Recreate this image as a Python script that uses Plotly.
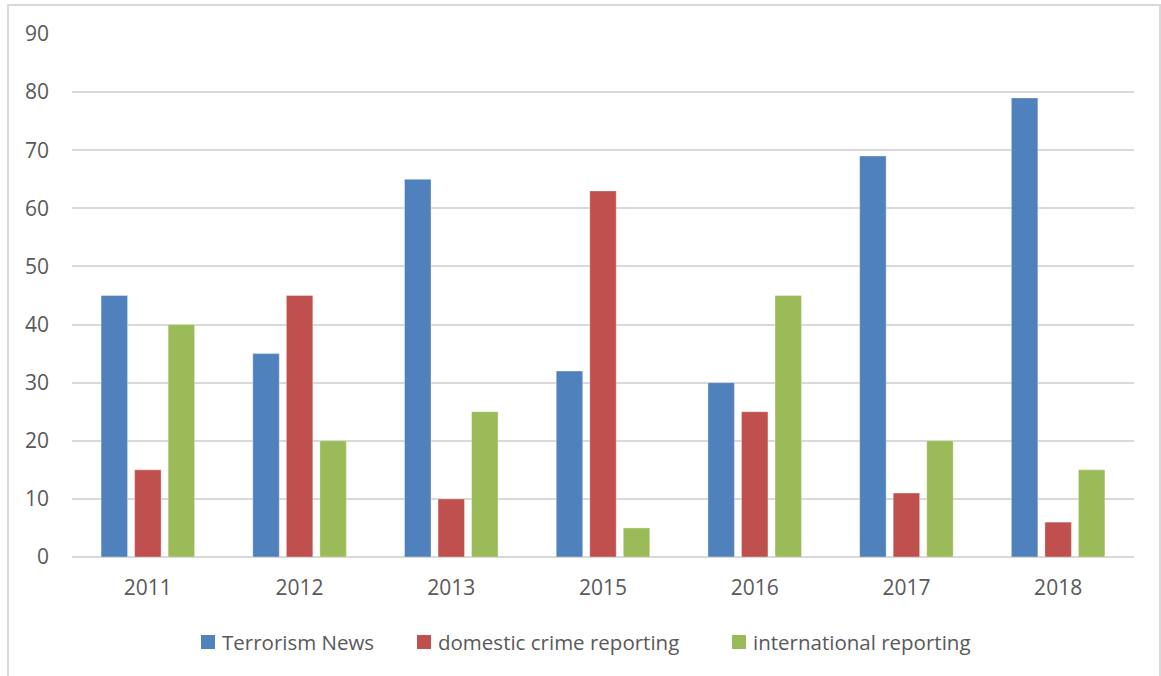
import plotly.graph_objects as go

years = ["2011", "2012", "2013", "2015", "2016", "2017", "2018"]
terrorism_news = [45, 35, 65, 32, 30, 69, 79]
domestic_crime = [15, 45, 10, 63, 25, 11, 6]
international = [40, 20, 25, 5, 45, 20, 15]

series_names = ["Terrorism News", "domestic crime reporting", "international reporting"]
series_colors = ["#4F81BD", "#C0504D", "#9BBB59"]
y_ticks = list(range(0, 100, 10))

TEXT = "#595959"
GRID = "#D9D9D9"
FONT = "Open Sans"

# plot-area geometry in pixels, used to place the legend and frame in paper units
L, R, T, B = 72, 1134, 34, 557
PW, PH = R - L, B - T


def px_x(px):
    return (px - L) / PW


def px_y(py):
    return (B - py) / PH


fig = go.Figure()
for name, vals, col in zip(series_names, [terrorism_news, domestic_crime, international], series_colors):
    fig.add_trace(go.Bar(
        x=years, y=vals, name=name, showlegend=False,
        marker=dict(color=col, line=dict(color="rgba(255,255,255,0.35)", width=1)),
    ))

# legend drawn as square swatches with labels below the plot
legend_left = [201, 417, 732]
shapes = []
annotations = []
for name, col, x0 in zip(series_names, series_colors, legend_left):
    shapes.append(dict(type="rect", xref="paper", yref="paper",
                       x0=px_x(x0), x1=px_x(x0 + 14), y0=px_y(649), y1=px_y(635),
                       fillcolor=col, line=dict(width=0)))
    annotations.append(dict(text=name, xref="paper", yref="paper", x=px_x(x0 + 19), y=px_y(642),
                            xanchor="left", yanchor="middle", showarrow=False,
                            font=dict(family=FONT, size=20.5, color=TEXT)))

# light chart frame
shapes.append(dict(type="rect", xref="paper", yref="paper",
                   x0=px_x(8), x1=px_x(1160), y0=px_y(700), y1=px_y(5),
                   line=dict(color=GRID, width=2), fillcolor="rgba(0,0,0,0)", layer="below"))

fig.update_layout(
    width=1161, height=676,
    margin=dict(l=L, r=1161 - R, t=T, b=676 - B),
    paper_bgcolor="white", plot_bgcolor="white",
    barmode="group", bargap=0.337, bargroupgap=0.21,
    font=dict(family=FONT, color=TEXT, size=21),
    showlegend=False,
    xaxis=dict(type="category", showgrid=False, showline=False, ticks="",
               tickfont=dict(size=21, color=TEXT), ticklabelstandoff=16),
    yaxis=dict(range=[0, 90], tickvals=y_ticks, showgrid=True, gridcolor=GRID, gridwidth=2,
               zeroline=True, zerolinecolor=GRID, zerolinewidth=2, showline=False, ticks="",
               tickfont=dict(size=21, color=TEXT), ticklabelstandoff=22),
    shapes=shapes,
    annotations=annotations,
)

fig.write_html("out.html")
